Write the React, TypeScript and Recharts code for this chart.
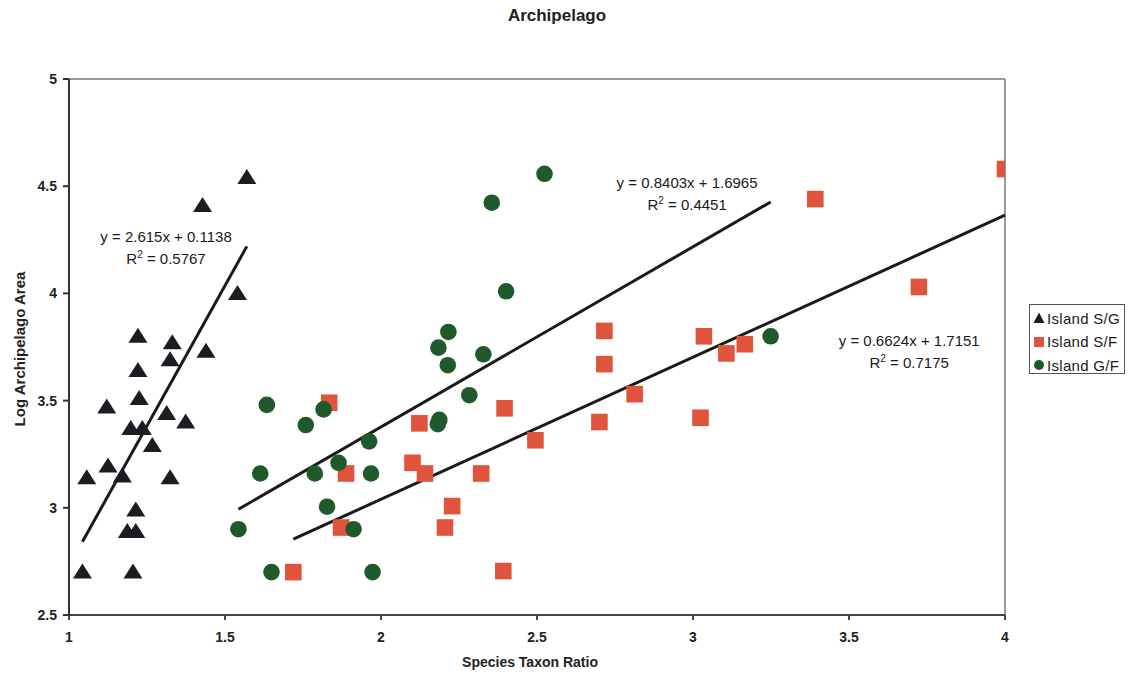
import React from "react";
import {
  ScatterChart,
  Scatter,
  XAxis,
  YAxis,
  ReferenceLine,
  ReferenceDot,
} from "recharts";

const FONT = "'Liberation Sans', Arial, sans-serif";

const xTicks = [1, 1.5, 2, 2.5, 3, 3.5, 4];
const yTicks = [2.5, 3, 3.5, 4, 4.5, 5];

// Island S/G (triangles)
const sgX = [1.570, 1.428, 1.540, 1.221, 1.331, 1.439, 1.324, 1.221, 1.225, 1.121, 1.313, 1.198, 1.235, 1.374, 1.267, 1.125, 1.171, 1.057, 1.324, 1.214, 1.187, 1.214, 1.043, 1.205];
const sgY = [4.54, 4.41, 4.0, 3.80, 3.77, 3.73, 3.69, 3.64, 3.51, 3.47, 3.44, 3.37, 3.37, 3.40, 3.29, 3.195, 3.148, 3.14, 3.14, 2.99, 2.89, 2.89, 2.70, 2.70];

// Island S/F (squares)
const sfX = [1.834, 2.123, 2.396, 2.495, 2.101, 2.141, 1.888, 2.321, 2.228, 2.205, 1.872, 1.719, 2.392, 4.0, 3.392, 3.724, 2.716, 3.035, 3.166, 3.107, 2.716, 2.813, 2.700, 3.024];
const sfY = [3.49, 3.394, 3.464, 3.315, 3.21, 3.16, 3.16, 3.16, 3.008, 2.908, 2.908, 2.70, 2.705, 4.58, 4.44, 4.03, 3.825, 3.80, 3.763, 3.72, 3.67, 3.53, 3.40, 3.42];

// Island G/F (circles)
const gfX = [2.524, 2.355, 2.401, 2.216, 2.184, 2.328, 2.214, 2.283, 1.634, 1.816, 1.759, 2.187, 2.182, 1.962, 1.613, 1.788, 1.864, 1.968, 1.827, 1.543, 1.912, 1.649, 1.973, 3.249];
const gfY = [4.558, 4.423, 4.01, 3.82, 3.747, 3.716, 3.665, 3.525, 3.48, 3.459, 3.386, 3.41, 3.39, 3.31, 3.16, 3.16, 3.21, 3.16, 3.005, 2.90, 2.90, 2.70, 2.70, 3.80];

// trend lines (slope, intercept, r2) as printed on the chart
const fitNames = ["S/G", "S/F", "G/F"];
const fitSlope = [2.615, 0.6624, 0.8403];
const fitIntercept = [0.1138, 1.7151, 1.6965];
const fitR2 = ["0.5767", "0.7175", "0.4451"];
const fitEqX = [1.311, 3.693, 2.981];
const fitEqY = [4.266, 3.777, 4.514];

const toPoints = (xs: number[], ys: number[]) => xs.map((x, i) => ({ x, y: ys[i] }));

const sgData = toPoints(sgX, sgY);
const sfData = toPoints(sfX, sfY);
const gfData = toPoints(gfX, gfY);
const allX = [sgX, sfX, gfX];

const TRI = "#1c1c22";
const RED = "#e0533d";
const GREEN = "#1f5a2c";

function Triangle(props: any) {
  const { cx, cy } = props;
  return <polygon points={`${cx},${cy - 8.5} ${cx - 9.5},${cy + 6.5} ${cx + 9.5},${cy + 6.5}`} fill={TRI} />;
}

function Square(props: any) {
  const { cx, cy } = props;
  return <rect x={cx - 8.3} y={cy - 8.3} width={16.6} height={16.6} fill={RED} />;
}

function Circle(props: any) {
  const { cx, cy } = props;
  return <circle cx={cx} cy={cy} r={8.3} fill={GREEN} />;
}

function EqLabel(props: any, i: number) {
  const { cx, cy } = props;
  const b = fitIntercept[i];
  return (
    <g>
      <text x={cx} y={cy} dy="0.35em" textAnchor="middle" fontSize={15} fontFamily={FONT} fill="#1a1a1a">
        {`y = ${fitSlope[i]}x + ${b}`}
      </text>
      <text x={cx} y={cy + 22} dy="0.35em" textAnchor="middle" fontSize={15} fontFamily={FONT} fill="#1a1a1a">
        R<tspan fontSize={10} dy="-6">2</tspan>
        <tspan dy="6">{` = ${fitR2[i]}`}</tspan>
      </text>
    </g>
  );
}

function LegendBox() {
  const items = [
    { name: "Island S/G", kind: "tri" },
    { name: "Island S/F", kind: "sq" },
    { name: "Island G/F", kind: "circ" },
  ];
  return (
    <div
      style={{
        position: "absolute",
        left: 1029,
        top: 304,
        border: "1px solid #555",
        width: 94,
        height: 68,
        background: "#fff",
        fontFamily: FONT,
        fontSize: 15,
        color: "#1a1a1a",
      }}
    >
      {items.map((it, i) => (
        <div key={it.name} style={{ position: "absolute", left: 3, top: 4 + i * 23.5, height: 18, display: "flex", alignItems: "center" }}>
          <svg width={12} height={12} style={{ marginRight: 2 }}>
            {it.kind === "tri" && <polygon points="6,0.5 0.5,11 11.5,11" fill={TRI} />}
            {it.kind === "sq" && <rect x={1} y={1} width={10} height={10} fill={RED} />}
            {it.kind === "circ" && <circle cx={6} cy={6} r={5} fill={GREEN} />}
          </svg>
          <span style={{ letterSpacing: 0.3 }}>{it.name}</span>
        </div>
      ))}
    </div>
  );
}

export default function App() {
  const tickStyle = { fontSize: 14, fontWeight: 700, fill: "#222", fontFamily: FONT };
  return (
    <div style={{ position: "absolute", left: 0, top: 0, width: 1130, height: 674, background: "#fff" }}>
      <div
        style={{
          position: "absolute",
          left: 457,
          top: 6,
          width: 200,
          textAlign: "center",
          fontFamily: FONT,
          fontWeight: 700,
          fontSize: 17,
          color: "#222",
        }}
      >
        Archipelago
      </div>
      <ScatterChart width={1130} height={674} margin={{ top: 79, right: 125, bottom: 29, left: 20 }}>
        <XAxis
          type="number"
          dataKey="x"
          domain={[1, 4]}
          ticks={xTicks}
          allowDataOverflow
          stroke="#444"
          strokeWidth={2}
          tickSize={5}
          tickMargin={12}
          tick={tickStyle}
          height={30}
          label={{
            content: () => (
              <text x={530} y={662} dy="0.35em" textAnchor="middle" fontSize={14} fontWeight={700} fontFamily={FONT} fill="#222">
                Species Taxon Ratio
              </text>
            ),
          }}
        />
        <YAxis
          type="number"
          dataKey="y"
          domain={[2.5, 5]}
          ticks={yTicks}
          allowDataOverflow
          stroke="#333"
          strokeWidth={2}
          tickSize={6}
          tickMargin={6}
          tick={tickStyle}
          width={49}
          label={{
            content: () => (
              <text
                x={20}
                y={349}
                dy="0.35em"
                transform="rotate(-90 20 349)"
                textAnchor="middle"
                fontSize={15}
                fontWeight={700}
                fontFamily={FONT}
                fill="#222"
              >
                Log Archipelago Area
              </text>
            ),
          }}
        />
        <ReferenceLine y={5} stroke="#777" strokeWidth={1.5} />
        <ReferenceLine x={4} stroke="#777" strokeWidth={1.5} />
        <Scatter name="Island S/G" data={sgData} shape={Triangle} isAnimationActive={false} />
        <Scatter name="Island S/F" data={sfData} shape={Square} isAnimationActive={false} />
        <Scatter name="Island G/F" data={gfData} shape={Circle} isAnimationActive={false} />
        {fitNames.map((n, i) => {
          const x0 = Math.min(...allX[i]);
          const x1 = Math.max(...allX[i]);
          return (
            <ReferenceLine
              key={n}
              segment={[
                { x: x0, y: fitSlope[i] * x0 + fitIntercept[i] },
                { x: x1, y: fitSlope[i] * x1 + fitIntercept[i] },
              ]}
              stroke="#1a1a1a"
              strokeWidth={3}
            />
          );
        })}
        {fitNames.map((n, i) => (
          <ReferenceDot
            key={"eq" + n}
            x={fitEqX[i]}
            y={fitEqY[i]}
            r={0}
            shape={(p: any) => EqLabel(p, i)}
          />
        ))}
      </ScatterChart>
      <LegendBox />
    </div>
  );
}
